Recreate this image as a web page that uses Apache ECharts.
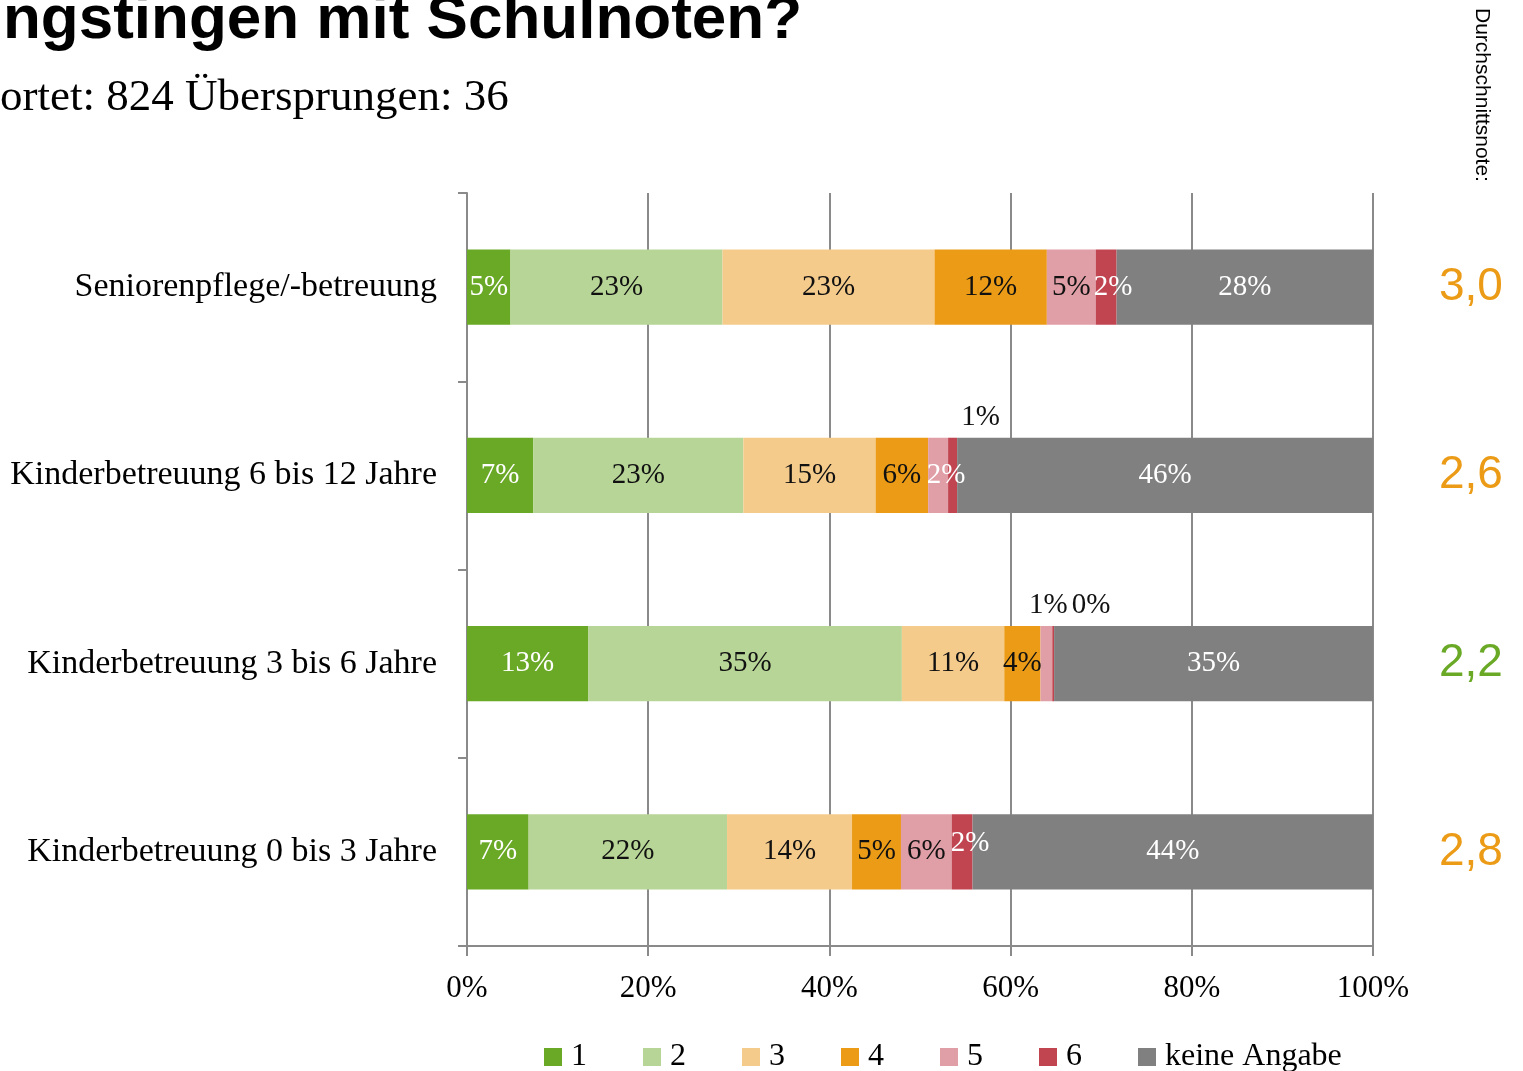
<!DOCTYPE html>
<html>
<head>
<meta charset="utf-8">
<script src="https://cdn.jsdelivr.net/npm/echarts@6/dist/echarts.min.js"></script>
<style>
    html, body { margin: 0; padding: 0; background: #fff; }
    #chart { width: 1523px; height: 1071px; }
</style>
</head>
<body>
<div id="chart"></div>
<script>
// Daten (Anteile in %)
var categories = ['Seniorenpflege/-betreuung', 'Kinderbetreuung 6 bis 12 Jahre', 'Kinderbetreuung 3 bis 6 Jahre', 'Kinderbetreuung 0 bis 3 Jahre'];
var seriesNames = ['1', '2', '3', '4', '5', '6', 'keine Angabe'];
var note1 = [4.8, 7.3, 13.4, 6.8];
var note2 = [23.4, 23.2, 34.6, 21.9];
var note3 = [23.4, 14.6, 11.3, 13.8];
var note4 = [12.4, 5.8, 4.0, 5.4];
var note5 = [5.4, 2.2, 1.3, 5.6];
var note6 = [2.3, 1.0, 0.2, 2.3];
var keineAngabe = [28.3, 45.9, 35.2, 44.2];
var durchschnitt = [3.0, 2.6, 2.2, 2.8];
var xTicks = [0, 20, 40, 60, 80, 100];

var serif = '"Liberation Serif", "DejaVu Serif", serif';
var sans = '"Liberation Sans", Arial, sans-serif';
var colors = ['#6aa926', '#b7d596', '#f5cb8c', '#eb9b16', '#e09ea6', '#c14551', '#808080'];
var labelColors = ['#fff', '#111', '#111', '#111', '#111', '#fff', '#fff'];
var values = [note1, note2, note3, note4, note5, note6, keineAngabe];

// einzelne Beschriftungen verschieben ("serie-zeile")
var labelTweaks = {
    '5-0': { offset: [7, 0] },
    '4-1': { color: '#fff', offset: [8, 0] },
    '5-1': { position: 'top', color: '#111', offset: [28, 0] },
    '4-2': { position: 'top', offset: [2, 0] },
    '5-2': { position: 'top', color: '#111', offset: [38, 0] },
    '5-3': { offset: [8, -8] }
};

var series = values.map(function(arr, s){
    return {
        name: seriesNames[s],
        type: 'bar',
        stack: 'gesamt',
        barWidth: '40%',
        itemStyle: { color: colors[s] },
        label: {
            show: true,
            position: 'inside',
            color: labelColors[s],
            fontFamily: serif,
            fontSize: 29,
            distance: 6,
            formatter: function(p){ return Math.round(p.value) + '%'; }
        },
        data: arr.map(function(v, r){
            var t = labelTweaks[s + '-' + r];
            return t ? { value: v, label: t } : v;
        })
    };
});

var option = {
    backgroundColor: '#fff',
    animation: false,
    color: colors,
    graphic: [
        {
            type: 'text', right: 1523 - 802, top: -10,
            style: { text: 'ngstingen mit Schulnoten?', font: 'bold 62px ' + sans, fill: '#000', textAlign: 'right' }
        },
        {
            type: 'text', left: 0, top: 76,
            style: { text: 'ortet: 824 Übersprungen: 36', font: '45px ' + serif, fill: '#000' }
        },
        {
            type: 'text', x: 1471, y: 8, rotation: -Math.PI / 2,
            style: { text: 'Durchschnittsnote:', font: '21px ' + sans, fill: '#000', textAlign: 'left', textVerticalAlign: 'bottom' }
        }
    ],
    legend: {
        left: 539,
        top: 1036,
        itemWidth: 18,
        itemHeight: 18,
        itemGap: 56,
        icon: 'rect',
        data: seriesNames,
        textStyle: { fontFamily: serif, fontSize: 32, color: '#000', padding: [0, 0, 0, 4] }
    },
    grid: { left: 467, right: 150, top: 193, bottom: 125 },
    xAxis: {
        type: 'value',
        min: 0,
        max: 100,
        interval: 20,
        axisLine: { show: true, lineStyle: { color: '#8a8a8a', width: 2 } },
        axisTick: { show: true, length: 10, lineStyle: { color: '#8a8a8a', width: 2 } },
        splitLine: { show: true, lineStyle: { color: '#8a8a8a', width: 2 } },
        axisLabel: {
            margin: 27,
            fontFamily: serif,
            fontSize: 31,
            color: '#000',
            formatter: function(v){ return xTicks.indexOf(v) >= 0 ? v + '%' : ''; }
        }
    },
    yAxis: [
        {
            type: 'category',
            inverse: true,
            data: categories,
            axisLine: { show: true, lineStyle: { color: '#8a8a8a', width: 2 } },
            axisTick: { show: true, length: 9, lineStyle: { color: '#8a8a8a', width: 2 } },
            axisLabel: { margin: 30, fontFamily: serif, fontSize: 34, color: '#000' }
        },
        {
            type: 'category',
            inverse: true,
            position: 'right',
            data: durchschnitt,
            axisLine: { show: false },
            axisTick: { show: false },
            axisLabel: {
                margin: 66,
                fontFamily: sans,
                fontSize: 46,
                color: function(v){ return parseFloat(v) < 2.5 ? '#6aa926' : '#eb9b16'; },
                formatter: function(v){ return Number(v).toFixed(1).replace('.', ','); }
            }
        }
    ],
    series: series
};

var myChart = echarts.init(document.getElementById('chart'));
myChart.setOption(option);
</script>
</body>
</html>
